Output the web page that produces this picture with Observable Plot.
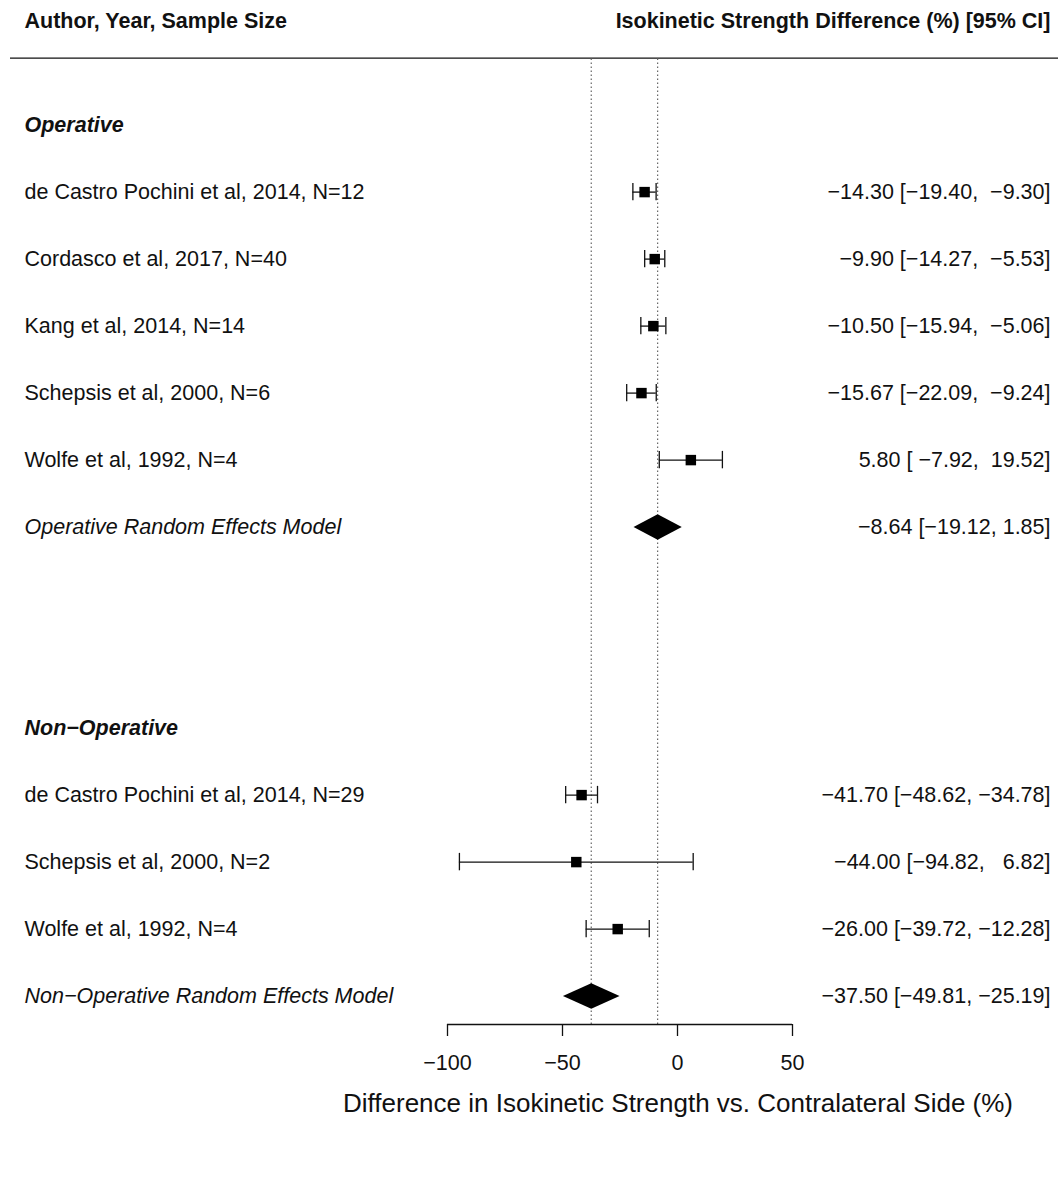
<!DOCTYPE html>
<html>
<head>
<meta charset="utf-8">
<script src="https://cdn.jsdelivr.net/npm/d3@7"></script>
<script src="https://cdn.jsdelivr.net/npm/@observablehq/plot@0.6"></script>
<style>
  body { margin: 0; background: #fff; }
  #chart svg text { white-space: pre; }
</style>
</head>
<body>
<div id="chart"></div>
<script>
// Study-level results (percent difference vs. contralateral side)
const studyLabels = [
  "de Castro Pochini et al, 2014, N=12",
  "Cordasco et al, 2017, N=40",
  "Kang et al, 2014, N=14",
  "Schepsis et al, 2000, N=6",
  "Wolfe et al, 1992, N=4",
  "de Castro Pochini et al, 2014, N=29",
  "Schepsis et al, 2000, N=2",
  "Wolfe et al, 1992, N=4"
];
const studyGroup = [0, 0, 0, 0, 0, 1, 1, 1];
const estimates = [-14.30, -9.90, -10.50, -15.67, 5.80, -41.70, -44.00, -26.00];
const lower     = [-19.40, -14.27, -15.94, -22.09, -7.92, -48.62, -94.82, -39.72];
const upper     = [-9.30, -5.53, -5.06, -9.24, 19.52, -34.78, 6.82, -12.28];
const studyRows = [13, 12, 11, 10, 9, 4, 3, 2];

// Subgroup headings and random-effects summaries
const groupNames = ["Operative", "Non\u2212Operative"];
const groupRows = [14, 5];
const summaryLabels = ["Operative Random Effects Model", "Non\u2212Operative Random Effects Model"];
const summaryEst   = [-8.64, -37.50];
const summaryLower = [-19.12, -49.81];
const summaryUpper = [1.85, -25.19];
const summaryRows  = [8, 1];

// Axis
const xTicks = [-100, -50, 0, 50];
const xLabel = "Difference in Isokinetic Strength vs. Contralateral Side (%)";
const leftHeader = "Author, Year, Sample Size";
const rightHeader = "Isokinetic Strength Difference (%) [95% CI]";

// Layout (row units on the y scale)
const W = 1058, H = 1198;
const yMin = 0.576, yMax = 15.606;
const headerRow = 15.55, ruleRow = 15;
const capHalf = 0.13, diamondHalf = 0.19;
const leftTextX = 24, rightTextX = 1050;
const mLeft = 447, mRight = 266;

const f2 = d3.format(".2f");

const studies = studyLabels.map((label, i) => ({
  label, group: studyGroup[i], est: estimates[i], lo: lower[i], hi: upper[i], row: studyRows[i]
}));

// Right-hand column: every value padded to one common width
const width = d3.max(studies.flatMap(d => [d.est, d.lo, d.hi]), v => f2(v).length);
const pad = v => f2(v).padStart(width);
for (const d of studies) d.ci = `${pad(d.est)} [${pad(d.lo)}, ${pad(d.hi)}]`;

const summaries = summaryLabels.map((label, i) => ({
  label, est: summaryEst[i], lo: summaryLower[i], hi: summaryUpper[i], row: summaryRows[i],
  ci: `${f2(summaryEst[i])} [${f2(summaryLower[i])}, ${f2(summaryUpper[i])}]`
}));

const diamonds = summaries.flatMap((d, i) => [
  {id: i, x: d.lo, y: d.row},
  {id: i, x: d.est, y: d.row + diamondHalf},
  {id: i, x: d.hi, y: d.row},
  {id: i, x: d.est, y: d.row - diamondHalf}
]);

const groups = groupNames.map((name, i) => ({name, row: groupRows[i]}));

const ink = "#111";
const leftDx = leftTextX - mLeft;
const rightDx = rightTextX - (W - mRight);

const chart = Plot.plot({
  width: W,
  height: H,
  marginLeft: mLeft,
  marginRight: mRight,
  marginTop: 17,
  marginBottom: H - 1024,
  style: {fontFamily: "'Liberation Sans', Arial, sans-serif", fontSize: "21.5px", color: ink, background: "#fff"},
  x: {domain: [xTicks[0], xTicks[xTicks.length - 1]]},
  y: {domain: [yMin, yMax], axis: null},
  marks: [
    // header rule across the full width
    Plot.ruleY([ruleRow], {stroke: ink, strokeWidth: 1.3, insetLeft: -(mLeft - 10), insetRight: -mRight}),
    // reference lines at the two pooled estimates
    Plot.ruleX(summaries, {x: "est", y1: yMin, y2: ruleRow, stroke: "#666", strokeWidth: 1.2, strokeDasharray: "1.5,2.5"}),
    // confidence intervals with end caps
    Plot.ruleY(studies, {y: "row", x1: "lo", x2: "hi", stroke: ink, strokeWidth: 1.3}),
    Plot.ruleX(studies, {x: "lo", y1: d => d.row - capHalf, y2: d => d.row + capHalf, stroke: ink, strokeWidth: 1.3}),
    Plot.ruleX(studies, {x: "hi", y1: d => d.row - capHalf, y2: d => d.row + capHalf, stroke: ink, strokeWidth: 1.3}),
    Plot.dot(studies, {x: "est", y: "row", symbol: "square", r: 5.9, fill: "#000", stroke: "none"}),
    // pooled estimates as diamonds
    Plot.line(diamonds, {x: "x", y: "y", z: "id", fill: "#000", stroke: "none"}),
    // x axis
    Plot.ruleY([yMin], {x1: xTicks[0], x2: xTicks[xTicks.length - 1], stroke: ink, strokeWidth: 1.3}),
    Plot.axisX({ticks: xTicks, tickSize: 12, tickPadding: 18, tickFormat: d3.format("d"), label: null, strokeWidth: 1.3}),
    Plot.text([xLabel], {frameAnchor: "bottom", dx: 58, dy: 87, fontSize: 26, fill: ink}),
    // column headers
    Plot.text([leftHeader], {y: headerRow, frameAnchor: "left", dx: leftDx, textAnchor: "start", fontWeight: "bold", fill: ink}),
    Plot.text([rightHeader], {y: headerRow, frameAnchor: "right", dx: rightDx, textAnchor: "end", fontWeight: "bold", fill: ink}),
    // subgroup headings
    Plot.text(groups, {y: "row", text: "name", frameAnchor: "left", dx: leftDx, textAnchor: "start", fontWeight: "bold", fontStyle: "italic", fill: ink}),
    // study labels and values
    Plot.text(studies, {y: "row", text: "label", frameAnchor: "left", dx: leftDx, textAnchor: "start", fill: ink}),
    Plot.text(studies, {y: "row", text: "ci", frameAnchor: "right", dx: rightDx, textAnchor: "end", fill: ink}),
    // summary labels and values
    Plot.text(summaries, {y: "row", text: "label", frameAnchor: "left", dx: leftDx, textAnchor: "start", fontStyle: "italic", fill: ink}),
    Plot.text(summaries, {y: "row", text: "ci", frameAnchor: "right", dx: rightDx, textAnchor: "end", fill: ink})
  ]
});

document.getElementById("chart").appendChild(chart);
</script>
</body>
</html>
